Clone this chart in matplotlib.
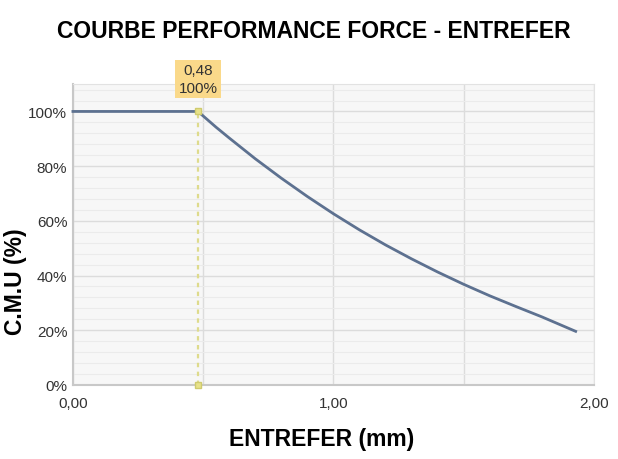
import matplotlib
matplotlib.use("Agg")
import matplotlib.pyplot as plt
from matplotlib.ticker import MultipleLocator, FuncFormatter

plt.rcParams['font.family'] = ['Liberation Sans', 'DejaVu Sans']

# data
entrefer = [0.0, 0.48, 0.55, 0.60, 0.70, 0.80, 0.90, 1.00, 1.10, 1.20, 1.30,
            1.40, 1.50, 1.60, 1.70, 1.80, 1.93]
cmu = [100, 100, 94.2, 90.3, 82.7, 75.6, 68.9, 62.6, 56.7, 51.2, 46.1,
       41.3, 36.8, 32.6, 28.7, 24.9, 19.6]
point_x = 0.48
point_y = 100
point_label = "0,48\n100%"

fig = plt.figure(figsize=(6.18, 4.6), dpi=100)
ax = fig.add_axes([0.118, 0.161, 0.843, 0.654])
ax.set_facecolor('#f7f7f7')

ax.set_xlim(0, 2.0)
ax.set_ylim(0, 110)
ax.xaxis.set_major_locator(MultipleLocator(1.0))
ax.xaxis.set_minor_locator(MultipleLocator(0.5))
ax.yaxis.set_major_locator(MultipleLocator(20))
ax.yaxis.set_minor_locator(MultipleLocator(4))
ax.xaxis.set_major_formatter(FuncFormatter(lambda v, p: f"{v:.2f}".replace('.', ',')))
ax.yaxis.set_major_formatter(FuncFormatter(lambda v, p: f"{v:.0f}%"))

ax.grid(which='major', color='#dcdcdc', lw=1.0)
ax.grid(which='minor', axis='y', color='#ebebeb', lw=0.8)
ax.grid(which='minor', axis='x', color='#dcdcdc', lw=1.0)
ax.set_axisbelow(True)
ax.tick_params(which='both', length=0)
ax.tick_params(axis='y', labelsize=11, colors='#333333', pad=4)
ax.tick_params(axis='x', labelsize=11, colors='#333333', pad=8)
for s in ['top', 'right']:
    ax.spines[s].set_color('#e2e2e2')
for s in ['left', 'bottom']:
    ax.spines[s].set_color('#c8c8c8')
    ax.spines[s].set_linewidth(1.5)

# curve
ax.plot(entrefer, cmu, color='#5d7190', lw=2.0, clip_on=False, zorder=3,
        solid_joinstyle='round')

# highlighted point
ax.plot([point_x, point_x], [0, point_y], color='#dedb8c', lw=1.6, ls=(0, (2, 2)), zorder=2)
ax.plot([point_x, point_x], [0, point_y], ls='none', marker='s', ms=5,
        mfc='#e8e28a', mec='#cfcb6e', clip_on=False, zorder=4)
ax.annotate(point_label, (point_x, point_y), xytext=(0, 12), textcoords='offset points',
            ha='center', va='bottom', fontsize=11, color='#333333', linespacing=1.35,
            bbox=dict(boxstyle='square,pad=0.2', fc='#fad98a', ec='none'))

fig.text(0.508, 0.932, "COURBE PERFORMANCE FORCE - ENTREFER", ha='center', va='center',
         fontsize=16.5, fontweight='bold')
ax.set_xlabel("ENTREFER (mm)", fontsize=16.5, fontweight='bold')
ax.xaxis.set_label_coords(0.478, -0.14)
ax.set_ylabel("C.M.U (%)", fontsize=16.5, fontweight='bold')
ax.yaxis.set_label_coords(-0.088, 0.345)

fig.savefig("out.png", dpi=100)
